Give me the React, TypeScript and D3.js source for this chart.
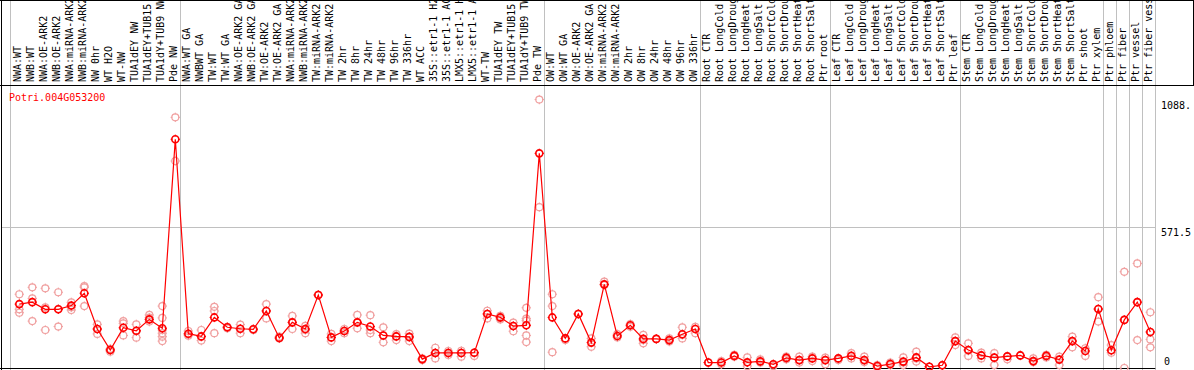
import React from "react";
import * as d3 from "d3";

const geneId = "Potri.004G053200";

const sampleLabels: string[] = [
  "NWA:WT", "NWB:WT", "NWA:OE-ARK2", "NWB:OE-ARK2", "NWA:miRNA-ARK2", "NWB:miRNA-ARK2",
  "NW 0hr", "WT H2O", "WT-NW", "TUA1dEY NW", "TUA1dEY+TUB15 NW", "TUA1dY+TUB9 NW", "Pde NW",
  "NWA:WT GA", "NWBWT GA", "TW:WT", "TW:WT GA", "NWA:OE-ARK2 GA", "NWB:OE-ARK2 GA",
  "TW:OE-ARK2", "TW:OE-ARK2 GA", "NWA:miRNA-ARK2 GA", "NWB:miRNA-ARK2 GA", "TW:miRNA-ARK2",
  "TW:miRNA-ARK2 GA", "TW 2hr", "TW 8hr", "TW 24hr", "TW 48hr", "TW 96hr", "TW 336hr",
  "WT ACC", "35S::etr1-1 H2O", "35S::etr1-1 ACC", "LMX5::etr1-1 H2O", "LMX5::etr1-1 ACC",
  "WT-TW", "TUA1dEY TW", "TUA1dEY+TUB15 TW", "TUA1dY+TUB9 TW", "Pde TW",
  "OW:WT", "OW:WT GA", "OW:OE-ARK2", "OW:OE-ARK2 GA", "OW:miRNA-ARK2", "OW:miRNA-ARK2 GA",
  "OW 2hr", "OW 8hr", "OW 24hr", "OW 48hr", "OW 96hr", "OW 336hr",
  "Root CTR", "Root LongCold", "Root LongDrought", "Root LongHeat", "Root LongSalt",
  "Root ShortCold", "Root ShortDrought", "Root ShortHeat", "Root ShortSalt", "Ptr root",
  "Leaf CTR", "Leaf LongCold", "Leaf LongDrought", "Leaf LongHeat", "Leaf LongSalt",
  "Leaf ShortCold", "Leaf ShortDrought", "Leaf ShortHeat", "Leaf ShortSalt", "Ptr leaf",
  "Stem CTR", "Stem LongCold", "Stem LongDrought", "Stem LongHeat", "Stem LongSalt",
  "Stem ShortCold", "Stem ShortDrought", "Stem ShortHeat", "Stem ShortSalt", "Ptr shoot",
  "Ptr xylem", "Ptr phloem", "Ptr fiber", "Ptr vessel", "Ptr fiber vessel",
];

const meanValues: number[] = [
  259, 267, 238, 238, 253, 303, 158, 73, 163, 151, 197, 161, 927,
  139, 128, 205, 165, 159, 157, 231, 122, 185, 158, 296, 124, 150, 185, 168, 132, 128, 126,
  36, 61, 61, 61, 62, 219, 205, 170, 173, 870,
  205, 120, 219, 103, 339, 130, 173, 118, 118, 113, 137, 158,
  22, 22, 49, 23, 27, 15, 41, 32, 39, 32,
  39, 49, 32, 8, 16, 26, 43, 5, 11, 109,
  73, 51, 42, 47, 51, 28, 49, 34, 109, 69,
  239, 72, 195, 267, 146,
];

const replicateValues: number[][] = [
  [299, 238, 224], [327, 282, 190], [323, 246, 154], [307, 239, 168], [266, 246, 235],
  [332, 327, 251], [177, 158, 138], [78, 73, 66], [190, 181, 132], [177, 149, 123],
  [215, 204, 188], [251, 203, 154, 141, 127, 109], [1016, 839],
  [150, 136, 131], [154, 127, 111], [248, 231, 141], [167, 161], [176, 158, 141],
  [158, 154], [259, 232, 201], [127, 120], [211, 185, 158], [171, 154, 141], [296, 296],
  [138, 124, 109], [158, 150, 141], [215, 185, 161], [214, 154, 141], [165, 132, 104],
  [137, 128, 113], [139, 124, 109],
  [39, 32], [82, 61, 39], [69, 61, 53], [70, 61, 46], [62, 49],
  [232, 219, 201], [211, 201, 197], [184, 170, 149], [244, 200, 192, 132, 105], [1088, 652],
  [299, 251, 64], [120, 113], [219, 219], [120, 86], [350, 336], [137, 124], [178, 167],
  [134, 113, 100], [118, 118], [120, 107], [165, 134, 120], [167, 141],
  [22, 22], [28, 15], [53, 46], [43, 8], [35, 22], [15, 8], [46, 35], [46, 22], [46, 28], [42, 15],
  [39, 32], [60, 39], [46, 24], [12, 3], [22, 12], [43, 22, 12], [66, 39, 26], [5, 5], [11, 11],
  [124, 109, 93],
  [100, 70, 49], [62, 51, 39], [60, 42, 12], [47, 35], [51, 51], [39, 24], [53, 43], [46, 12],
  [127, 109, 84], [80, 49],
  [287, 239, 188], [93, 72, 62], [390, 195, 0], [424, 267, 113], [226, 146, 116, 84],
];

const separatorAfter: number[] = [12, 40, 52, 62, 72, 83, 84, 85, 86, 87];

const axisTicks: string[] = ["1088.", "571.5", "0"];
const axisTickValues: number[] = [1088, 571.5, 0];

const W = 1194;
const H = 370;
const FONT = "'DejaVu Sans Mono', monospace";

function Marker({ cx, cy, color, sw }: { cx: number; cy: number; color: string; sw: number }) {
  const r = 3.5;
  return (
    <g stroke={color} strokeWidth={sw} fill="none">
      <circle cx={cx} cy={cy} r={r} />
      <line x1={cx} y1={cy - r - 1.2} x2={cx} y2={cy - r + 0.6} strokeWidth={1} />
      <line x1={cx} y1={cy + r - 0.6} x2={cx} y2={cy + r + 1.2} strokeWidth={1} />
      <line x1={cx - r - 1.2} y1={cy} x2={cx - r + 0.6} y2={cy} strokeWidth={1} />
      <line x1={cx + r - 0.6} y1={cy} x2={cx + r + 1.2} y2={cy} strokeWidth={1} />
    </g>
  );
}

export default function App() {
  React.useEffect(() => {
    document.body.style.margin = "0";
  }, []);

  const n = sampleLabels.length;
  const x = d3.scaleLinear().domain([0, n - 1]).range([19.3, 19.3 + 13 * (n - 1)]);
  const y = d3.scaleLinear().domain([0, 1143]).range([368, 86]);
  const plotRight = x(n - 1) + 5;

  const line = d3
    .line<number>()
    .x((_, i) => x(i))
    .y((d) => y(d));

  const sepXs = [x(0) - 9, ...separatorAfter.map((i) => x(i) + 5)];

  return (
    <svg
      width={W}
      height={H}
      style={{ position: "absolute", left: 0, top: 0, background: "#fff" }}
      fontFamily={FONT}
    >
      <rect x={0} y={0} width={W} height={H} fill="#fff" />
      {/* grey gridline */}
      <line x1={1} x2={plotRight} y1={Math.round(y(571.5)) + 0.5} y2={Math.round(y(571.5)) + 0.5} stroke="#c0c0c0" strokeWidth={1} />
      {/* separators */}
      {sepXs.map((sx, i) => (
        <line key={i} x1={Math.round(sx) + 0.5} x2={Math.round(sx) + 0.5} y1={0} y2={H} stroke="#c0c0c0" strokeWidth={1} />
      ))}
      {/* frame */}
      <line x1={0} x2={W} y1={85.5} y2={85.5} stroke="#000" strokeWidth={1} />
      <line x1={0} x2={W} y1={0.5} y2={0.5} stroke="#000" strokeWidth={1} />
      <line x1={1.5} x2={1.5} y1={0} y2={H} stroke="#000" strokeWidth={1} />
      <line x1={W - 0.5} x2={W - 0.5} y1={0} y2={86} stroke="#000" strokeWidth={1} />
      <line x1={0} x2={plotRight} y1={368.5} y2={368.5} stroke="#000" strokeWidth={1} />
      {/* sample labels */}
      {sampleLabels.map((lab, i) => (
        <text
          key={lab + i}
          transform={`translate(${x(i) + 1.5},82) rotate(-90)`}
          fontSize={10}
          fill="#000"
        >
          {lab}
        </text>
      ))}
      {/* title */}
      <text x={9} y={101} fontSize={10} fill="#ff0000">
        {geneId}
      </text>
      {/* axis labels */}
      {axisTicks.map((t, i) => {
        const v = axisTickValues[i];
        const ty = v === 0 ? 365 : y(v) + 9;
        return (
          <text key={t} x={v === 0 ? 1164 : 1161} y={ty} fontSize={10} fill="#000">
            {t}
          </text>
        );
      })}
      {/* replicates */}
      {replicateValues.map((reps, i) =>
        reps.map((v, j) => <Marker key={`r${i}-${j}`} cx={x(i)} cy={y(v)} color="#f0a0a0" sw={1.2} />)
      )}
      {/* mean line */}
      <path d={line(meanValues) || ""} fill="none" stroke="#ff0000" strokeWidth={1.2} />
      {/* means */}
      {meanValues.map((v, i) => (
        <Marker key={`m${i}`} cx={x(i)} cy={y(v)} color="#ff0000" sw={1.6} />
      ))}
    </svg>
  );
}
